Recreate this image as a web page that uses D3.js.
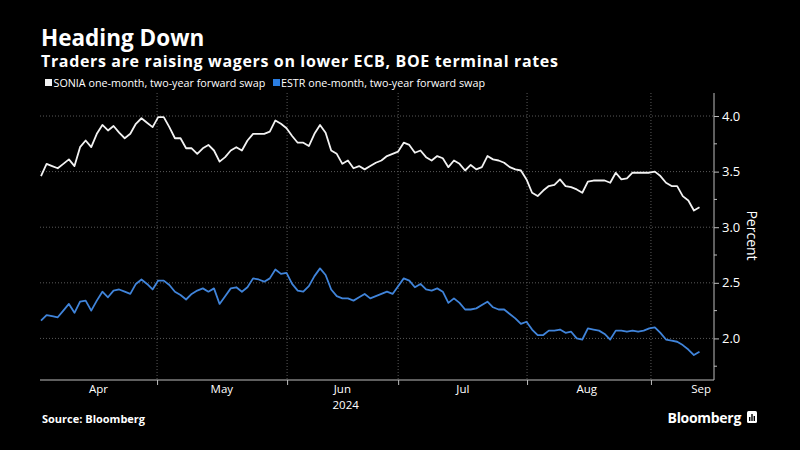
<!DOCTYPE html>
<html>
<head>
<meta charset="utf-8">
<script src="https://cdn.jsdelivr.net/npm/d3@7"></script>
<style>
  html, body { margin: 0; padding: 0; background: #000; }
  svg { display: block; }
  text { font-family: "Open Sans", "Noto Sans", sans-serif; fill: #fff; }
</style>
</head>
<body>
<svg id="chart" width="800" height="450"></svg>
<script>
// ---- Data (trading-day index series, late Mar – early Sep 2024) ----
const soniaValues = [
  3.46,3.57,3.55,3.53,3.57,3.61,3.55,3.72,3.78,3.72,
  3.84,3.92,3.87,3.91,3.85,3.80,3.84,3.93,3.98,3.94,
  3.90,3.99,3.99,3.90,3.80,3.80,3.71,3.71,3.66,3.71,
  3.74,3.69,3.59,3.63,3.69,3.72,3.69,3.78,3.84,3.84,
  3.84,3.86,3.96,3.93,3.89,3.82,3.76,3.76,3.73,3.84,
  3.92,3.85,3.69,3.66,3.57,3.60,3.53,3.55,3.52,
  3.55,3.58,3.60,3.64,3.66,3.68,3.76,3.74,3.67,3.69,
  3.63,3.60,3.64,3.62,3.54,3.60,3.57,3.51,3.56,3.52,
  3.54,3.64,3.61,3.60,3.58,3.54,3.52,3.51,3.43,3.31,
  3.28,3.33,3.37,3.38,3.43,3.37,3.36,3.34,3.31,3.41,
  3.42,3.42,3.42,3.40,3.49,3.43,3.44,3.49,3.49,3.49,
  3.49,3.50,3.46,3.40,3.37,3.37,3.28,3.24,3.15,3.18
];
const estrValues = [
  2.16,2.21,2.20,2.19,2.25,2.31,2.23,2.33,2.34,2.25,
  2.34,2.42,2.37,2.43,2.44,2.42,2.40,2.49,2.53,2.49,
  2.44,2.52,2.52,2.48,2.42,2.39,2.35,2.40,2.43,2.45,
  2.42,2.45,2.31,2.38,2.45,2.46,2.42,2.46,2.54,2.53,
  2.51,2.54,2.62,2.58,2.59,2.49,2.43,2.42,2.47,2.56,
  2.63,2.57,2.44,2.38,2.36,2.36,2.34,2.37,2.40,
  2.36,2.38,2.40,2.42,2.40,2.47,2.54,2.52,2.46,2.49,
  2.44,2.43,2.45,2.42,2.32,2.36,2.32,2.26,2.26,2.27,
  2.30,2.33,2.28,2.26,2.26,2.22,2.18,2.13,2.15,2.08,
  2.03,2.03,2.07,2.07,2.08,2.05,2.06,2.00,1.99,2.09,
  2.08,2.07,2.04,1.99,2.07,2.07,2.06,2.07,2.06,2.07,
  2.09,2.10,2.05,1.99,1.98,1.97,1.94,1.90,1.85,1.88
];
const seriesNames = ["SONIA one-month, two-year forward swap", "ESTR one-month, two-year forward swap"];
const monthBoundaries = [20.8, 44.1, 64.0, 87.1, 109.3];          // month starts, in trading-day index
const monthLabels = ["Apr", "May", "Jun", "Jul", "Aug", "Sep"];
const monthLabelPos = [10.3, 32.4, 54.0, 75.6, 97.8, 118.3];       // label anchors, trading-day index
const yearLabel = "2024";
const yMajorTicks = [2.0, 2.5, 3.0, 3.5, 4.0];
const yMinorTicks = [1.75, 2.25, 2.75, 3.25, 3.75];

// ---- Layout ----
const svg = d3.select("#chart");
const W = 800, H = 450;
const plot = { left: 40, right: 714, top: 93, bottom: 380 };
const colors = { sonia: "#f2f2f2", estr: "#4084da", estrKey: "#2a7de1", grid: "#5a5a5a", axis: "#bdbdbd" };

svg.append("rect").attr("width", W).attr("height", H).attr("fill", "#000");

const x = d3.scaleLinear().domain([-0.18, 120.6]).range([plot.left, plot.right]);
const y = d3.scaleLinear().domain([1.626, 4.207]).range([plot.bottom, plot.top]);

// Titles
svg.append("text").attr("x", 41).attr("y", 46)
  .style("font-size", "22.5px").style("font-weight", "700").text("Heading Down");
svg.append("text").attr("x", 41).attr("y", 67)
  .style("font-size", "16px").style("font-weight", "700").style("letter-spacing", "0.65px")
  .text("Traders are raising wagers on lower ECB, BOE terminal rates");

// Legend
const legend = svg.append("g").attr("transform", "translate(45,83)");
const l1 = legend.append("g");
l1.append("rect").attr("x", 0).attr("y", -4).attr("width", 7).attr("height", 7).attr("fill", colors.sonia);
l1.append("text").attr("x", 8.5).attr("y", 3.5).style("font-size", "10.75px").text(seriesNames[0]);
const l2 = legend.append("g").attr("transform", "translate(228,0)");
l2.append("rect").attr("x", 0).attr("y", -4).attr("width", 7).attr("height", 7).attr("fill", colors.estrKey);
l2.append("text").attr("x", 8).attr("y", 3.5).style("font-size", "10.75px").text(seriesNames[1]);

// Horizontal grid
svg.append("g").selectAll("line").data(yMajorTicks).join("line")
  .attr("x1", plot.left).attr("x2", plot.right)
  .attr("y1", d => y(d)).attr("y2", d => y(d))
  .attr("stroke", colors.grid).attr("stroke-width", 1).attr("stroke-dasharray", "1,2");

// Vertical grid at month starts
svg.append("g").selectAll("line").data(monthBoundaries).join("line")
  .attr("x1", d => x(d)).attr("x2", d => x(d))
  .attr("y1", plot.top).attr("y2", plot.bottom)
  .attr("stroke", colors.grid).attr("stroke-width", 1).attr("stroke-dasharray", "1,2");

// Right y axis
const yAxis = d3.axisRight(y).tickValues(yMajorTicks).tickFormat(d3.format(".1f")).tickSize(5).tickPadding(3);
const yg = svg.append("g").attr("transform", `translate(${plot.right},0)`).call(yAxis);
yg.select(".domain").attr("stroke", colors.axis).attr("d", `M0,${plot.top}V${plot.bottom}`);
yg.selectAll(".tick line").attr("stroke", colors.axis);
yg.selectAll(".tick text").attr("fill", "#fff").style("font-size", "13px")
  .style("font-family", "'Open Sans', sans-serif");
svg.append("g").selectAll("line").data(yMinorTicks).join("line")
  .attr("x1", plot.right).attr("x2", plot.right + 3)
  .attr("y1", d => y(d)).attr("y2", d => y(d)).attr("stroke", colors.axis);

svg.append("text")
  .attr("transform", `translate(747,${(plot.top + plot.bottom) / 2 - 1}) rotate(90)`)
  .attr("text-anchor", "middle").style("font-size", "14px").text("Percent");

// Bottom x axis
const xAxis = d3.axisBottom(x).tickValues(monthBoundaries).tickFormat("").tickSize(5);
const xg = svg.append("g").attr("transform", `translate(0,${plot.bottom})`).call(xAxis);
xg.select(".domain").attr("stroke", colors.axis).attr("d", `M${plot.left},0H${plot.right}`);
xg.selectAll(".tick line").attr("stroke", colors.axis);

svg.append("g").selectAll("text").data(monthLabels).join("text")
  .attr("x", (d, i) => x(monthLabelPos[i])).attr("y", plot.bottom + 13)
  .attr("text-anchor", "middle").style("font-size", "11.5px").text(d => d);
svg.append("text").attr("x", x(54.6)).attr("y", plot.bottom + 29)
  .attr("text-anchor", "middle").style("font-size", "11.5px").text(yearLabel);

// Lines
const line = d3.line().x((d, i) => x(i)).y(d => y(d));
svg.append("path").datum(estrValues).attr("d", line)
  .attr("fill", "none").attr("stroke", colors.estr).attr("stroke-width", 1.8).attr("stroke-linejoin", "round");
svg.append("path").datum(soniaValues).attr("d", line)
  .attr("fill", "none").attr("stroke", colors.sonia).attr("stroke-width", 1.8).attr("stroke-linejoin", "round");

// Footer
svg.append("text").attr("x", 42).attr("y", 423)
  .style("font-size", "11px").style("font-weight", "700").text("Source: Bloomberg");
svg.append("text").attr("x", 741).attr("y", 423).attr("text-anchor", "end")
  .style("font-size", "14px").style("font-weight", "700").style("letter-spacing", "-0.3px").text("Bloomberg");
const logo = svg.append("g").attr("transform", "translate(747,411)");
logo.append("rect").attr("width", 10).attr("height", 12).attr("rx", 1.5).attr("fill", "#fff");
logo.selectAll("rect.bar").data([4, 7, 5]).join("rect").attr("class", "bar")
  .attr("x", (d, i) => 2 + i * 2.3).attr("y", d => 10 - d).attr("width", 1.4).attr("height", d => d).attr("fill", "#000");
</script>
</body>
</html>
